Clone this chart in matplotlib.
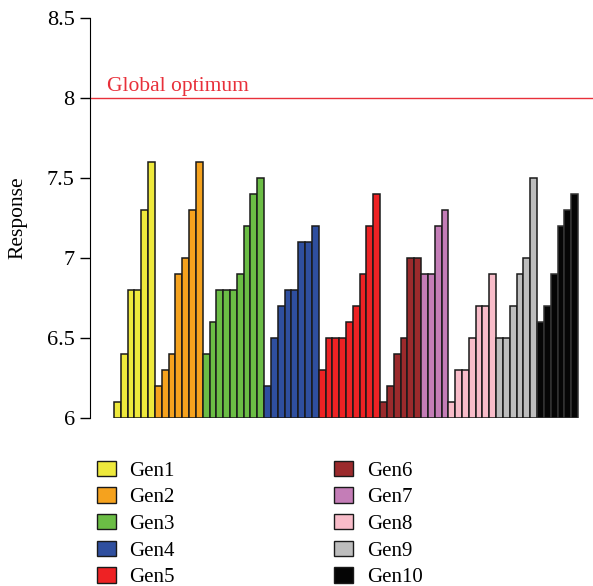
import matplotlib
matplotlib.use("Agg")
import matplotlib.pyplot as plt
from matplotlib.patches import Patch
import numpy as np

plt.rcParams['font.family'] = ['Liberation Serif', 'DejaVu Serif']

gens = ['Gen1', 'Gen2', 'Gen3', 'Gen4', 'Gen5', 'Gen6', 'Gen7', 'Gen8', 'Gen9', 'Gen10']
colors = ['#EEE93C', '#F5A21E', '#6BBD45', '#2F4F9F', '#EE2224',
          '#9B2A2C', '#C47DB7', '#F8BCC9', '#BDBDBD', '#050505']

gen1 = [6.1, 6.4, 6.8, 6.8, 7.3, 7.6]
gen2 = [6.2, 6.3, 6.4, 6.9, 7.0, 7.3, 7.6]
gen3 = [6.4, 6.6, 6.8, 6.8, 6.8, 6.9, 7.2, 7.4, 7.5]
gen4 = [6.2, 6.5, 6.7, 6.8, 6.8, 7.1, 7.1, 7.2]
gen5 = [6.3, 6.5, 6.5, 6.5, 6.6, 6.7, 6.9, 7.2, 7.4]
gen6 = [6.1, 6.2, 6.4, 6.5, 7.0, 7.0]
gen7 = [6.9, 6.9, 7.2, 7.3]
gen8 = [6.1, 6.3, 6.3, 6.5, 6.7, 6.7, 6.9]
gen9 = [6.5, 6.5, 6.7, 6.9, 7.0, 7.5]
gen10 = [6.6, 6.7, 6.9, 7.2, 7.3, 7.4]
series = [gen1, gen2, gen3, gen4, gen5, gen6, gen7, gen8, gen9, gen10]

optimum = 8.0
base = 6.0

fig = plt.figure(figsize=(5.93, 5.86), dpi=100)
ax = fig.add_axes([90 / 593, 1 - 418 / 586, 503 / 593, 400 / 586])

pos = 0
for vals, c in zip(series, colors):
    x = np.arange(pos, pos + len(vals))
    ec = '#333333' if c == '#050505' else '#1a1a1a'
    ax.bar(x, np.array(vals) - base, bottom=base, width=1.0, align='edge',
           color=c, edgecolor=ec, linewidth=1.1)
    pos += len(vals)

ax.axhline(optimum, color='#E8303A', linewidth=1.0)
ax.text(-1.0, optimum + 0.01, 'Global optimum', color='#E8303A',
        fontsize=15.5, va='bottom', ha='left')

ax.set_ylim(6, 8.5)
ax.set_xlim(-3.52, pos + 2.2)
ax.set_yticks([6, 6.5, 7, 7.5, 8, 8.5])
ax.set_yticklabels(['6', '6.5', '7', '7.5', '8', '8.5'])
ax.tick_params(axis='y', labelsize=16, length=7.5, width=1, pad=3.5)
ax.set_xticks([])
for s in ['top', 'right', 'bottom']:
    ax.spines[s].set_visible(False)
ax.set_ylabel('Response', fontsize=15.5)
ax.yaxis.set_label_coords(-0.125, 0.5)

handles = [Patch(facecolor=c, edgecolor='#1a1a1a', linewidth=1.0) for c in colors]
fig.legend(handles, gens, ncol=2, loc='upper left',
           bbox_to_anchor=(82 / 593, 1 - 446 / 586), frameon=False,
           fontsize=15, handlelength=0.91, handleheight=0.77,
           handletextpad=0.67, labelspacing=0.32, columnspacing=7.64,
           borderpad=0.2)

fig.savefig('out.png', dpi=100)
